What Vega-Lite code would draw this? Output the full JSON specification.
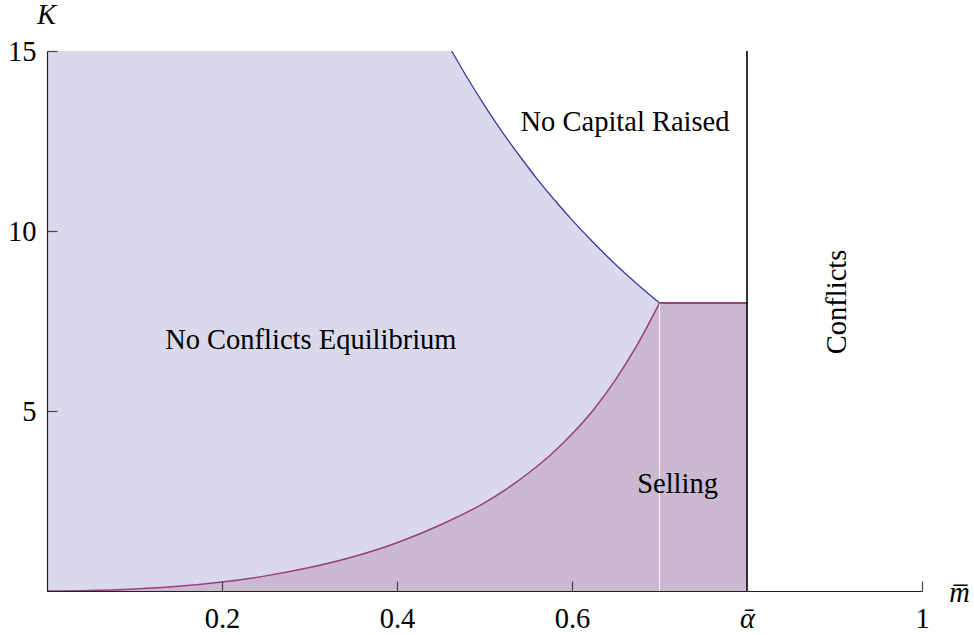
{
  "$schema": "https://vega.github.io/schema/vega-lite/v6.json",
  "width": 875,
  "height": 540,
  "autosize": {"type": "none"},
  "padding": {"left": 47, "top": 51, "right": 52, "bottom": 44},
  "background": "white",
  "config": {"view": {"stroke": null}, "font": "Liberation Serif, Times New Roman, Times, serif"},
  "encoding": {
    "x": {
      "field": "m",
      "type": "quantitative",
      "scale": {"domain": [0, 1], "nice": false, "zero": false},
      "axis": {
        "title": "m\u0305",
        "titleFont": "Liberation Serif, Times New Roman, Times, serif",
        "titleFontStyle": "italic",
        "titleFontWeight": "normal",
        "titleFontSize": 28.5,
        "titleColor": "black",
        "titleX": 912,
        "titleY": 10.5,
        "titleAlign": "center",
        "titleBaseline": "alphabetic",
        "values": [0.2, 0.4, 0.6, 0.8, 1],
        "labelExpr": "datum.value == 0.8 ? '\u1fb1' : (datum.value == 1 ? '1' : format(datum.value, '.1f'))",
        "labelFont": "Liberation Serif, Times New Roman, Times, serif",
        "labelFontSize": 28.5,
        "labelColor": "black",
        "labelFontStyle": {"condition": {"test": "datum.value == 0.8", "value": "italic"}, "value": "normal"},
        "labelPadding": 23,
        "labelFlush": false,
        "labelOverlap": false,
        "tickSize": -10,
        "tickColor": "#444",
        "tickWidth": 1.2,
        "domainColor": "#222",
        "domainWidth": 1.2,
        "grid": false,
        "zindex": 2
      }
    },
    "y": {
      "field": "K",
      "type": "quantitative",
      "scale": {"domain": [0, 15], "nice": false},
      "axis": {
        "title": "K",
        "titleFont": "Liberation Serif, Times New Roman, Times, serif",
        "titleFontStyle": "italic",
        "titleFontWeight": "normal",
        "titleFontSize": 28.5,
        "titleColor": "black",
        "titleAngle": 0,
        "titleX": -1,
        "titleY": -28,
        "titleAlign": "center",
        "titleBaseline": "alphabetic",
        "values": [5, 10, 15],
        "labelFont": "Liberation Serif, Times New Roman, Times, serif",
        "labelFontSize": 28.5,
        "labelColor": "black",
        "labelPadding": 21,
        "labelFlush": false,
        "labelOverlap": false,
        "tickSize": -10,
        "tickColor": "#444",
        "tickWidth": 1.2,
        "domainColor": "#222",
        "domainWidth": 1.2,
        "grid": false,
        "zindex": 2
      }
    }
  },
  "layer": [
    {
      "data": {"values": [
        {"m": 0, "K": 15}, {"m": 0.4625, "K": 15}, {"m": 0.464, "K": 14.94},
        {"m": 0.48, "K": 14.27}, {"m": 0.5, "K": 13.49}, {"m": 0.52, "K": 12.76},
        {"m": 0.54, "K": 12.09}, {"m": 0.56, "K": 11.45}, {"m": 0.58, "K": 10.86},
        {"m": 0.6, "K": 10.31}, {"m": 0.62, "K": 9.79}, {"m": 0.64, "K": 9.3},
        {"m": 0.66, "K": 8.84}, {"m": 0.68, "K": 8.41}, {"m": 0.7, "K": 8.0}
      ]},
      "mark": {"type": "area", "interpolate": "monotone", "color": "#D9D9EB"}
    },
    {
      "data": {"values": [
        {"m": 0, "K": 0}, {"m": 0.05, "K": 0.013}, {"m": 0.1, "K": 0.055},
        {"m": 0.15, "K": 0.13}, {"m": 0.2, "K": 0.25}, {"m": 0.25, "K": 0.42},
        {"m": 0.3, "K": 0.65}, {"m": 0.35, "K": 0.95}, {"m": 0.4, "K": 1.34},
        {"m": 0.45, "K": 1.84}, {"m": 0.5, "K": 2.45}, {"m": 0.525, "K": 2.83},
        {"m": 0.55, "K": 3.27}, {"m": 0.575, "K": 3.77}, {"m": 0.6, "K": 4.36},
        {"m": 0.625, "K": 5.05}, {"m": 0.65, "K": 5.88}, {"m": 0.675, "K": 6.86},
        {"m": 0.7, "K": 8.0}
      ]},
      "layer": [
        {"mark": {"type": "area", "interpolate": "monotone", "color": "#CBB9D1"}},
        {"mark": {"type": "line", "interpolate": "monotone", "color": "#9A3F7A", "strokeWidth": 1.5}}
      ]
    },
    {
      "data": {"values": [{"m": 0.7, "m2": 0.8, "K": 0, "K2": 8}]},
      "mark": {"type": "rect", "color": "#CBB9D1"},
      "encoding": {"x2": {"field": "m2"}, "y2": {"field": "K2"}}
    },
    {
      "data": {"values": [{"m": 0.7, "K": 0, "K2": 8}]},
      "mark": {"type": "rule", "color": "white", "strokeWidth": 1, "opacity": 0.8},
      "encoding": {"y2": {"field": "K2"}}
    },
    {
      "data": {"values": [{"m": 0.7, "m2": 0.8, "K": 8}]},
      "mark": {"type": "rule", "color": "#9A3F7A", "strokeWidth": 2},
      "encoding": {"x2": {"field": "m2"}}
    },
    {
      "data": {"values": [
        {"m": 0.4625, "K": 15}, {"m": 0.48, "K": 14.27}, {"m": 0.5, "K": 13.49},
        {"m": 0.52, "K": 12.76}, {"m": 0.54, "K": 12.09}, {"m": 0.56, "K": 11.45},
        {"m": 0.58, "K": 10.86}, {"m": 0.6, "K": 10.31}, {"m": 0.62, "K": 9.79},
        {"m": 0.64, "K": 9.3}, {"m": 0.66, "K": 8.84}, {"m": 0.68, "K": 8.41},
        {"m": 0.7, "K": 8.0}
      ]},
      "mark": {"type": "line", "interpolate": "monotone", "color": "#3A3A9A", "strokeWidth": 1.3}
    },
    {
      "data": {"values": [{"m": 0.8, "K": 0, "K2": 15}]},
      "mark": {"type": "rule", "color": "black", "strokeWidth": 1.6},
      "encoding": {"y2": {"field": "K2"}}
    },
    {
      "data": {"values": [
        {"m": 0.6606, "K": 12.77, "label": "No Capital Raised"},
        {"m": 0.3015, "K": 6.73, "label": "No Conflicts Equilibrium"},
        {"m": 0.7206, "K": 2.73, "label": "Selling"}
      ]},
      "mark": {"type": "text", "font": "Liberation Serif, Times New Roman, Times, serif", "fontSize": 28.5, "color": "black", "align": "center", "baseline": "alphabetic"},
      "encoding": {"text": {"field": "label"}}
    },
    {
      "data": {"values": [{"m": 0.913, "K": 8.03, "label": "Conflicts"}]},
      "mark": {"type": "text", "font": "Liberation Serif, Times New Roman, Times, serif", "fontSize": 28.5, "color": "black", "align": "center", "baseline": "alphabetic", "angle": 270},
      "encoding": {"text": {"field": "label"}}
    }
  ]
}
